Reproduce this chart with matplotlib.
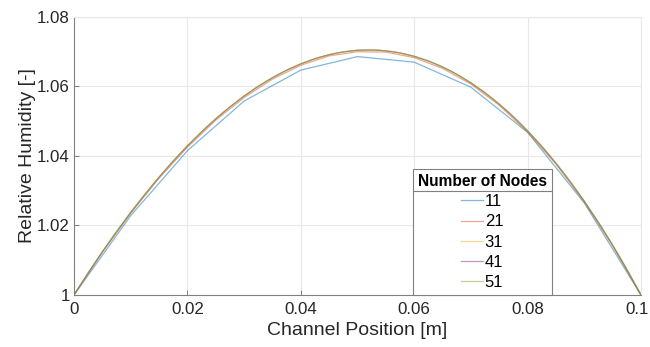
import matplotlib
matplotlib.use("Agg")
import matplotlib.pyplot as plt
import matplotlib.transforms as mtransforms
from matplotlib.lines import Line2D

plt.rcParams['font.family'] = ['Liberation Sans', 'DejaVu Sans']

# channel length [m]
length = 0.1

# relative humidity along the channel for each mesh size
rh_11 = [1.0, 1.0228, 1.0415, 1.0558, 1.0647, 1.0686, 1.0670, 1.0598, 1.0468, 1.0265, 1.0]

rh_21 = [1.0, 1.0123, 1.0235, 1.0336, 1.0425, 1.0503, 1.0568, 1.0621, 1.0661, 1.0688, 1.0700,
         1.0699, 1.0683, 1.0652, 1.0607, 1.0546, 1.0469, 1.0377, 1.0268, 1.0142, 1.0]

rh_31 = [1.0, 1.00839, 1.01630, 1.02372, 1.03063, 1.03702, 1.04289, 1.04822, 1.05301, 1.05725,
         1.06091, 1.06401, 1.06651, 1.06842, 1.06973, 1.07042, 1.07048, 1.06991, 1.06869, 1.06681,
         1.06427, 1.06105, 1.05715, 1.05255, 1.04724, 1.04122, 1.03447, 1.02698, 1.01875, 1.00976, 1.0]

rh_41 = [1.0, 1.00634, 1.01241, 1.01820, 1.02372, 1.02895, 1.03389, 1.03854, 1.04289, 1.04694,
         1.05069, 1.05412, 1.05725, 1.06005, 1.06253, 1.06469, 1.06651, 1.06800, 1.06915, 1.06996,
         1.07042, 1.07052, 1.07027, 1.06966, 1.06869, 1.06734, 1.06563, 1.06353, 1.06105, 1.05819,
         1.05494, 1.05129, 1.04724, 1.04279, 1.03794, 1.03267, 1.02698, 1.02088, 1.01435, 1.00739, 1.0]

rh_51 = [1.0, 1.00509, 1.01002, 1.01476, 1.01933, 1.02372, 1.02793, 1.03195, 1.03578, 1.03943,
         1.04289, 1.04616, 1.04923, 1.05210, 1.05477, 1.05725, 1.05952, 1.06158, 1.06343, 1.06508,
         1.06651, 1.06773, 1.06873, 1.06952, 1.07008, 1.07042, 1.07053, 1.07042, 1.07007, 1.06950,
         1.06869, 1.06764, 1.06636, 1.06483, 1.06307, 1.06105, 1.05879, 1.05629, 1.05353, 1.05051,
         1.04724, 1.04371, 1.03993, 1.03588, 1.03156, 1.02698, 1.02213, 1.01701, 1.01162, 1.00595, 1.0]

series = [rh_11, rh_21, rh_31, rh_41, rh_51]
labels = ["11", "21", "31", "41", "51"]
colors = ["#0072BD", "#D95319", "#EDB120", "#7E2F8E", "#77AC30"]

xticks = [0, 0.02, 0.04, 0.06, 0.08, 0.1]
xticklabels = ["0", "0.02", "0.04", "0.06", "0.08", "0.1"]
yticks = [1.0, 1.02, 1.04, 1.06, 1.08]
yticklabels = ["1", "1.02", "1.04", "1.06", "1.08"]

fig = plt.figure(figsize=(6.5, 3.47), dpi=100)
ax = fig.add_axes([0.1138, 0.1499, 0.8723, 0.8012])

for rh, lab, col in zip(series, labels, colors):
    n = len(rh)
    x = [length * i / (n - 1) for i in range(n)]
    ax.plot(x, rh, color=col, lw=0.9, alpha=0.5, label=lab)

ax.set_xlim(0, 0.1)
ax.set_ylim(1.0, 1.08)
ax.set_xticks(xticks)
ax.set_xticklabels(xticklabels)
ax.set_yticks(yticks)
ax.set_yticklabels(yticklabels)
ax.tick_params(direction="in", length=3.5, width=0.7, color="#808080",
               labelsize=12.2, labelcolor="#262626")
ax.tick_params(axis="x", pad=5)
ax.tick_params(axis="y", pad=3)
ax.grid(True, color="#e8e8e8", lw=0.8)
ax.set_axisbelow(True)
for side in ["left", "bottom"]:
    ax.spines[side].set_color("#808080")
    ax.spines[side].set_linewidth(0.8)
for side in ["top", "right"]:
    ax.spines[side].set_color("#e8e8e8")
    ax.spines[side].set_linewidth(0.8)

# keep the last x tick label inside the figure
last = ax.get_xticklabels()[-1]
last.set_transform(last.get_transform() +
                   mtransforms.ScaledTranslation(-4 / 100, 0, fig.dpi_scale_trans))

ax.set_xlabel("Channel Position [m]", fontsize=14, color="#262626", labelpad=4)
ax.set_ylabel("Relative Humidity [-]", fontsize=14, color="#262626", labelpad=1)

leg = ax.legend(title="Number of Nodes", loc="lower left", bbox_to_anchor=(0.5975, 0.0),
                borderaxespad=0, fontsize=12, title_fontsize=11.2, fancybox=False,
                framealpha=1, edgecolor="#808080", handlelength=1.3, handletextpad=0.12,
                labelspacing=0.31, borderpad=0.3)
leg.get_title().set_fontweight("bold")
leg.get_frame().set_linewidth(0.8)

# separator line under the legend title
fig.canvas.draw()
rend = fig.canvas.get_renderer()
fb = leg.get_frame().get_window_extent(rend)
tb = leg.get_title().get_window_extent(rend)
inv = fig.transFigure.inverted()
y_sep = tb.y0 - 2
(x0, ys), = inv.transform([(fb.x0, y_sep)])
(x1, _), = inv.transform([(fb.x1, y_sep)])
fig.add_artist(Line2D([x0, x1], [ys, ys], transform=fig.transFigure, color="#808080", lw=0.8))

fig.savefig("out.png", dpi=100)
